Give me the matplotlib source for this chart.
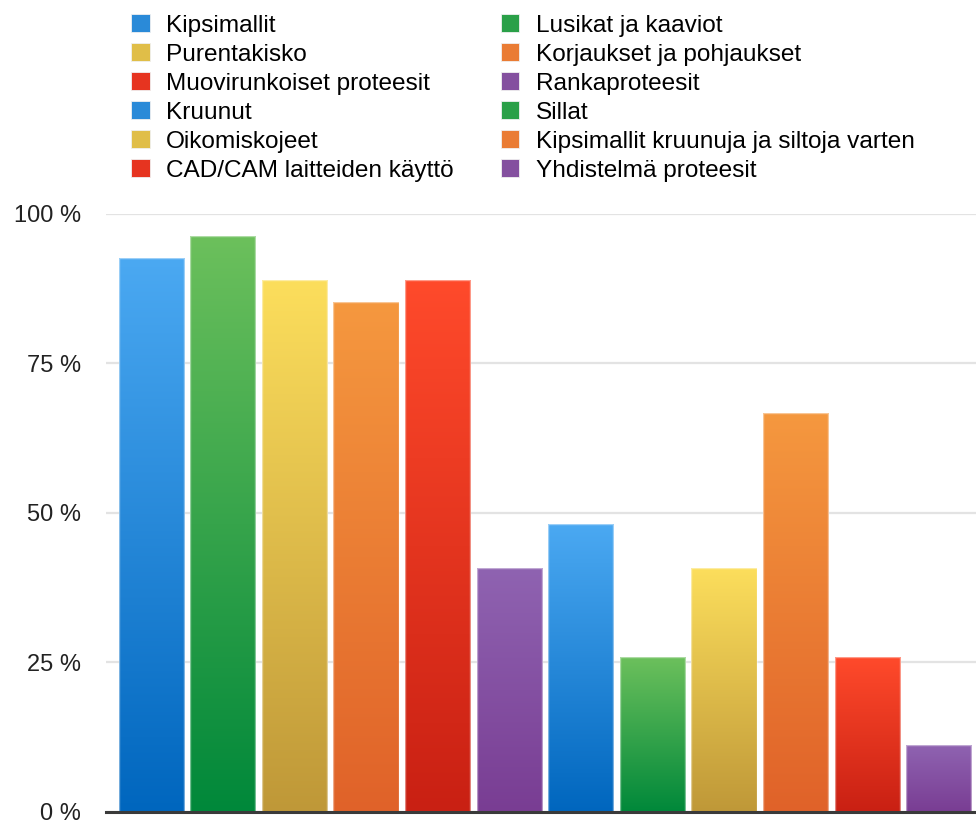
import numpy as np
import matplotlib
matplotlib.use("Agg")
import matplotlib.pyplot as plt
from matplotlib.patches import Patch
from matplotlib.colors import LinearSegmentedColormap

categories = [
    "Kipsimallit", "Lusikat ja kaaviot", "Purentakisko", "Korjaukset ja pohjaukset",
    "Muovirunkoiset proteesit", "Rankaproteesit", "Kruunut", "Sillat",
    "Oikomiskojeet", "Kipsimallit kruunuja ja siltoja varten",
    "CAD/CAM laitteiden käyttö", "Yhdistelmä proteesit",
]
values = [92.6, 96.3, 88.9, 85.2, 88.9, 40.7, 48.1, 25.9, 40.7, 66.7, 25.9, 11.1]
ytick_values = [0, 25, 50, 75, 100]
ytick_labels = ["0 %", "25 %", "50 %", "75 %", "100 %"]

palette = [
    ("#4ba9f2", "#0066be"),  # blue
    ("#6cc05c", "#00883a"),  # green
    ("#fcde5c", "#bf9838"),  # yellow
    ("#f5983f", "#e06229"),  # orange
    ("#ff4a2b", "#c92013"),  # red
    ("#8f63b1", "#793d93"),  # purple
]
mids = ["#2a8ad8", "#2aa048", "#e0be48", "#ea7c34", "#e63420", "#84509f"]

plt.rcParams["font.family"] = ["Liberation Sans", "DejaVu Sans"]
W, H, DPI = 976, 823, 100
fig = plt.figure(figsize=(W / DPI, H / DPI), dpi=DPI)
ax = fig.add_axes([106 / W, (H - 811.7) / H, 1 - 106 / W, 598 / H])

x = np.arange(len(values))
bars = ax.bar(x, values, width=0.91, color="none", edgecolor="#ffffff", linewidth=0.0, zorder=3)
ax.set_xlim(-0.63, len(values) - 1 + 0.52)
ax.set_ylim(0, 100)

for i, b in enumerate(bars):
    top, bot = palette[i % 6]
    cmap = LinearSegmentedColormap.from_list("g%d" % i, [bot, top])
    grad = np.linspace(0, 1, 256).reshape(-1, 1)
    x0, y0 = b.get_x(), b.get_y()
    im = ax.imshow(grad, cmap=cmap, origin="lower", aspect="auto",
                   extent=(x0, x0 + b.get_width(), y0, y0 + b.get_height()), zorder=3)
    im.set_clip_path(b)
    ax.add_patch(plt.Rectangle((x0, y0), b.get_width(), b.get_height(), fill=False,
                               edgecolor=(1, 1, 1, 0.45), linewidth=1.0, zorder=4))

ax.set_yticks(ytick_values)
ax.set_yticklabels(ytick_labels, fontsize=17, color="#222222")
ax.tick_params(axis="y", length=0, pad=18)
ax.set_xticks([])
for s in ["top", "right", "left"]:
    ax.spines[s].set_visible(False)
ax.spines["bottom"].set_color("#3a3a3a")
ax.spines["bottom"].set_linewidth(2.2)
ax.spines["bottom"].set_zorder(5)
ax.yaxis.grid(True, color="#e3e3e3", linewidth=1.6)
ax.set_axisbelow(True)
ax.set_xlim(-0.63, len(values) - 1 + 0.52)

handles = [Patch(facecolor=mids[i % 6], edgecolor="#f0f0f0", linewidth=0.6) for i in range(len(values))]
order = list(range(0, len(values), 2)) + list(range(1, len(values), 2))
fig.legend([handles[i] for i in order], [categories[i] for i in order],
           loc="upper left", bbox_to_anchor=(131 / W, 1 - 14 / H), ncol=2,
           frameon=False, fontsize=17.6, handlelength=0.76, handleheight=0.76,
           handletextpad=0.68, columnspacing=1.92, labelspacing=0.265, borderpad=0,
           borderaxespad=0)

fig.savefig("out.png", dpi=DPI)
